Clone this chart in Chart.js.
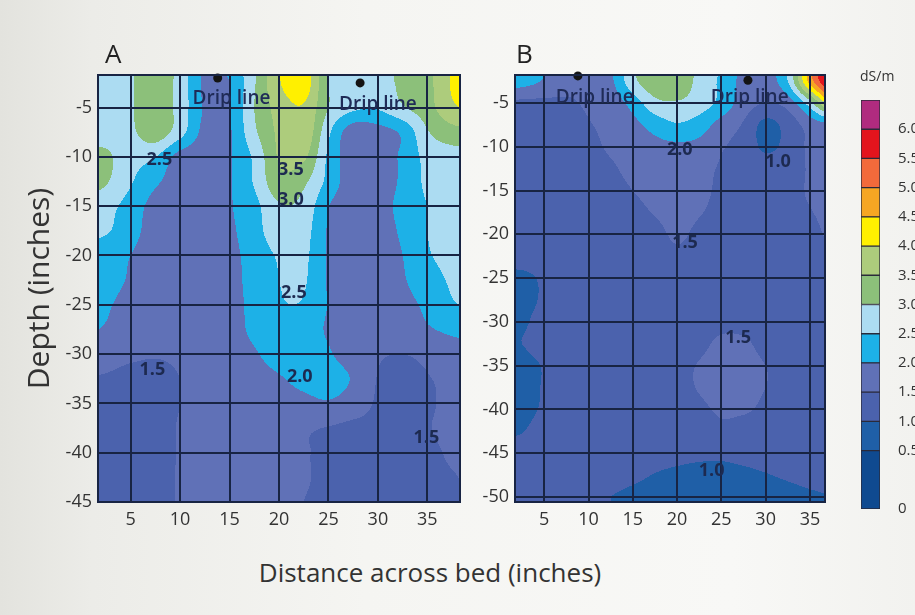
<!DOCTYPE html>
<html><head><meta charset="utf-8">
<script src="https://cdn.jsdelivr.net/npm/chart.js@4.4.1/dist/chart.umd.min.js"></script>
<style>
html,body{margin:0;padding:0;width:915px;height:615px;overflow:hidden;}
body{position:relative;font-family:"Open Sans",sans-serif;
background:linear-gradient(90deg,#e3e3de 0%,#ecece8 10%,#f5f5f2 40%,#f8f8f6 80%,#f2f2ef 100%);}
canvas{position:absolute;}
#unit{position:absolute;left:860px;top:66px;font-size:14px;color:#333;}
#xt{position:absolute;left:180px;width:500px;top:554px;text-align:center;font-size:26px;color:#333;}
</style></head>
<body>
<canvas id="cA" width="470" height="510" style="left:0;top:30px"></canvas>
<canvas id="cB" width="365" height="510" style="left:470px;top:30px"></canvas>
<canvas id="cC" width="90" height="447" style="left:855px;top:81px"></canvas>
<div id="unit">dS/m</div>
<div id="xt">Distance across bed (inches)</div>
<script>
// ---------- data ----------
const xNodes = [0,2.5,5,7.5,10,12.5,15,17.5,20,22.5,25,27.5,30,32.5,35,37.5,40];
const depthNodesA = [0,-2.5,-5,-7.5,-10,-12.5,-15,-17.5,-20,-22.5,-25,-27.5,-30,-32.5,-35,-37.5,-40,-42.5,-45];
const depthNodesB = [0,-2.5,-5,-7.5,-10,-12.5,-15,-17.5,-20,-22.5,-25,-27.5,-30,-32.5,-35,-37.5,-40,-42.5,-45,-47.5,-50];

// EC (dS/m) read at each depth row (top to bottom), across x nodes
const ecA = [
 [1.2,2.3,2.95,3.35,2.85,2.05,2.2,2.95,3.95,4.3,3.0,2.7,2.8,3.1,3.35,4.0,4.3],
 [2.7,2.75,2.95,3.35,2.8,1.9,2.0,2.95,3.95,4.3,3.0,2.7,2.8,3.1,3.35,4.05,4.3],
 [2.7,2.75,2.95,3.35,2.8,1.95,2.0,3.0,3.7,3.95,3.0,2.6,2.55,2.95,3.3,3.9,4.1],
 [2.7,2.75,2.9,3.3,2.7,1.85,1.95,2.9,3.6,3.9,2.6,1.7,1.8,2.1,2.95,3.3,3.4],
 [3.3,3.1,2.7,2.52,1.8,1.7,1.95,2.6,3.55,3.6,2.4,1.7,1.7,2.1,2.65,2.8,2.8],
 [3.3,3.05,2.55,2.1,1.7,1.65,1.95,2.55,3.35,3.1,2.35,1.7,1.7,2.1,2.6,2.75,2.8],
 [2.75,2.65,2.3,1.8,1.65,1.6,1.95,2.35,2.95,2.85,2.02,1.65,1.7,2.2,2.5,2.7,2.75],
 [2.65,2.55,2.2,1.75,1.65,1.6,1.9,2.3,2.8,2.7,1.95,1.65,1.7,2.1,2.5,2.65,2.7],
 [2.3,2.2,2.0,1.7,1.65,1.6,1.85,2.2,2.55,2.6,1.95,1.65,1.7,2.0,2.45,2.6,2.65],
 [2.25,2.15,1.95,1.7,1.65,1.6,1.8,2.2,2.5,2.55,1.95,1.7,1.7,1.95,2.3,2.55,2.6],
 [2.2,2.05,1.85,1.7,1.65,1.65,1.8,2.15,2.45,2.45,1.98,1.75,1.7,1.85,2.1,2.45,2.55],
 [2.1,1.95,1.8,1.7,1.65,1.65,1.8,2.1,2.3,2.2,1.95,1.75,1.7,1.8,1.95,2.1,2.2],
 [1.6,1.6,1.55,1.52,1.55,1.65,1.75,1.95,2.2,2.25,2.05,1.75,1.55,1.5,1.6,1.75,1.8],
 [1.5,1.48,1.45,1.45,1.5,1.6,1.7,1.8,1.95,2.15,2.2,1.95,1.48,1.4,1.48,1.6,1.7],
 [1.4,1.4,1.4,1.4,1.5,1.6,1.65,1.7,1.75,1.85,1.95,1.75,1.45,1.4,1.45,1.6,1.65],
 [1.4,1.4,1.4,1.4,1.52,1.6,1.65,1.65,1.6,1.55,1.48,1.4,1.4,1.4,1.48,1.6,1.65],
 [1.4,1.4,1.4,1.4,1.52,1.6,1.65,1.62,1.58,1.52,1.45,1.4,1.4,1.4,1.42,1.55,1.6],
 [1.4,1.4,1.4,1.42,1.52,1.6,1.63,1.6,1.56,1.52,1.45,1.4,1.4,1.4,1.4,1.48,1.55],
 [1.4,1.4,1.4,1.42,1.52,1.6,1.63,1.6,1.55,1.5,1.45,1.4,1.4,1.4,1.4,1.45,1.5]
];
const ecB = [
 [2.5,2.4,2.05,1.75,1.7,1.95,2.9,3.3,3.35,2.9,2.5,1.9,1.8,2.5,4.7,6.3,6.5],
 [2.3,2.2,1.95,1.65,1.65,1.9,2.85,3.35,3.35,2.85,2.4,1.85,1.75,2.5,4.7,6.3,6.5],
 [1.45,1.4,1.4,1.45,1.55,1.7,2.2,2.85,2.95,2.75,2.35,1.75,1.5,1.7,2.8,4.4,4.6],
 [1.4,1.35,1.35,1.4,1.48,1.6,1.85,2.2,2.45,2.25,1.8,1.45,0.85,1.2,1.7,1.9,2.0],
 [1.35,1.3,1.3,1.35,1.42,1.55,1.7,1.85,1.9,1.85,1.55,1.3,0.92,1.15,1.6,1.8,1.85],
 [1.35,1.3,1.3,1.3,1.35,1.45,1.6,1.7,1.75,1.65,1.45,1.3,1.25,1.3,1.55,1.75,1.8],
 [1.35,1.3,1.3,1.3,1.3,1.38,1.5,1.62,1.68,1.6,1.42,1.3,1.3,1.35,1.55,1.7,1.75],
 [1.35,1.3,1.3,1.3,1.3,1.32,1.4,1.52,1.6,1.52,1.4,1.3,1.3,1.35,1.48,1.6,1.65],
 [1.35,1.3,1.3,1.3,1.3,1.3,1.35,1.42,1.54,1.44,1.38,1.32,1.3,1.32,1.42,1.55,1.6],
 [1.3,1.3,1.3,1.3,1.3,1.3,1.32,1.38,1.45,1.4,1.35,1.32,1.3,1.3,1.38,1.5,1.55],
 [0.8,0.85,1.1,1.32,1.32,1.32,1.32,1.35,1.38,1.38,1.35,1.32,1.3,1.3,1.33,1.4,1.45],
 [0.78,0.83,1.08,1.3,1.3,1.3,1.3,1.32,1.32,1.35,1.38,1.35,1.3,1.3,1.3,1.35,1.4],
 [0.85,0.92,1.2,1.3,1.3,1.3,1.3,1.3,1.32,1.36,1.42,1.4,1.33,1.3,1.3,1.3,1.3],
 [0.92,1.0,1.25,1.3,1.3,1.3,1.3,1.3,1.32,1.42,1.56,1.55,1.4,1.3,1.3,1.3,1.3],
 [0.72,0.78,1.05,1.3,1.3,1.3,1.3,1.32,1.4,1.52,1.62,1.6,1.5,1.38,1.3,1.3,1.3],
 [0.72,0.78,1.05,1.3,1.3,1.3,1.3,1.32,1.4,1.52,1.62,1.6,1.5,1.38,1.3,1.3,1.3],
 [0.76,0.82,1.08,1.3,1.3,1.3,1.3,1.3,1.32,1.42,1.55,1.55,1.42,1.32,1.3,1.3,1.3],
 [0.92,0.98,1.25,1.3,1.3,1.3,1.3,1.28,1.25,1.25,1.4,1.3,1.28,1.3,1.3,1.3,1.3],
 [1.2,1.25,1.3,1.3,1.3,1.3,1.28,1.22,1.15,1.1,1.1,1.15,1.2,1.25,1.28,1.3,1.3],
 [1.25,1.25,1.25,1.25,1.25,1.2,1.1,0.98,0.9,0.85,0.85,0.9,0.98,1.05,1.12,1.18,1.2],
 [1.2,1.2,1.2,1.15,1.1,1.0,0.9,0.85,0.8,0.78,0.78,0.8,0.85,0.9,0.95,1.0,1.05]
];

const xTicks = [5,10,15,20,25,30,35];
const yTicksA = [-5,-10,-15,-20,-25,-30,-35,-40,-45];
const yTicksB = [-5,-10,-15,-20,-25,-30,-35,-40,-45,-50];

const bandEdges = [0,0.5,1.0,1.5,2.0,2.5,3.0,3.5,4.0,4.5,5.0,5.5,6.0,6.5];
const bandColors = ['#0f4a90','#1f5fa7','#4b62ad','#6071b7','#1db1e7','#acdcf2','#8cc07a','#adcc7c','#fff000','#f6a623','#f26a3b','#e3141d','#b02b7f'];
const cbTickLabels = ['0','0.5','1.0','1.5','2.0','2.5','3.0','3.5','4.0','4.5','5.0','5.5','6.0'];

const dripXA = [13.8, 28.2], dripDA = [-2.0, -2.5];
const dripTextXA = [15.2, 30.0], dripTextDA = [-4.1, -4.7];
const dripXB = [8.8, 28.0], dripDB = [-1.9, -2.4];
const dripTextXB = [10.7, 28.2], dripTextDB = [-4.4, -4.4];

const contourTextA = ['2.5','3.5','3.0','2.5','2.0','1.5','1.5'];
const contourXA = [7.9, 21.2, 21.2, 21.5, 22.1, 7.2, 34.9];
const contourDA = [-10.3, -11.3, -14.4, -23.8, -32.3, -31.6, -38.5];
const contourTextB = ['2.0','1.0','1.5','1.5','1.0'];
const contourXB = [20.3, 31.4, 20.9, 26.9, 23.9];
const contourDB = [-10.4, -11.7, -21.0, -31.8, -47.0];

// ---------- rendering helpers ----------
Chart.defaults.font.family = "'Open Sans', sans-serif";
const INK = '#182443';
function hexRgb(h){return [parseInt(h.slice(1,3),16),parseInt(h.slice(3,5),16),parseInt(h.slice(5,7),16)];}
const bandRgb = bandColors.map(hexRgb);
function cr(p0,p1,p2,p3,t){const t2=t*t,t3=t2*t;return 0.5*((2*p1)+(-p0+p2)*t+(2*p0-5*p1+4*p2-p3)*t2+(-p0+3*p1-3*p2+p3)*t3);}
function locate(nodes,v){const n=nodes.length,step=nodes[1]-nodes[0];let f=(v-nodes[0])/step;if(f<0)f=0;if(f>n-1)f=n-1;let i=Math.floor(f);if(i>n-2)i=n-2;return [i,f-i];}
function sample(grid,xN,dN,xv,dv){
  const [c,fx]=locate(xN,xv),[r,fy]=locate(dN,dv);
  const nc=xN.length,nr=dN.length,cl=(a,n)=>Math.max(0,Math.min(n-1,a));
  const col=[];
  for(let k=-1;k<=2;k++){const row=grid[cl(r+k,nr)];col.push(cr(row[cl(c-1,nc)],row[c],row[c+1],row[cl(c+2,nc)],fx));}
  return cr(col[0],col[1],col[2],col[3],fy);
}
function bandOf(v){let k=0;while(k<bandColors.length-1&&v>=bandEdges[k+1])k++;return k;}

function fieldPlugin(grid,dNodes){
  return {id:'field',beforeDraw(chart){
    const {ctx,chartArea:a,scales:{x,y}}=chart;
    const L=Math.floor(a.left),T=Math.floor(a.top),W=Math.ceil(a.right)-L,H=Math.ceil(a.bottom)-T;
    const off=document.createElement('canvas');off.width=W;off.height=H;
    const o=off.getContext('2d');const img=o.createImageData(W,H);const d=img.data;
    for(let j=0;j<H;j++){
      const dv=y.getValueForPixel(T+j+0.5);
      for(let i=0;i<W;i++){
        const xv=x.getValueForPixel(L+i+0.5);
        const c=bandRgb[bandOf(sample(grid,xNodes,dNodes,xv,dv))];
        const p=(j*W+i)*4;d[p]=c[0];d[p+1]=c[1];d[p+2]=c[2];d[p+3]=255;
      }
    }
    o.putImageData(img,0,0);ctx.drawImage(off,L,T);
  }};
}
function annotPlugin(cfg){
  return {id:'annot',
  afterDatasetsDraw(chart){
    const {ctx,scales:{x,y}}=chart;
    ctx.save();
    ctx.textAlign='center';ctx.textBaseline='middle';
    ctx.fillStyle='#1f2b57';ctx.font="600 19px 'Open Sans'";
    cfg.dripTextX.forEach((xv,i)=>ctx.fillText('Drip line',x.getPixelForValue(xv),y.getPixelForValue(cfg.dripTextD[i])));
    ctx.fillStyle='#1d2a50';ctx.font="700 18px 'Open Sans'";
    cfg.cText.forEach((t,i)=>ctx.fillText(t,x.getPixelForValue(cfg.cX[i]),y.getPixelForValue(cfg.cD[i])));
    ctx.restore();
  },
  afterDraw(chart){
    const {ctx,chartArea:a}=chart;
    ctx.save();ctx.strokeStyle=INK;ctx.lineWidth=2;
    ctx.strokeRect(a.left,a.top,a.right-a.left,a.bottom-a.top);
    ctx.fillStyle='#222';ctx.font="26px 'Open Sans'";ctx.textAlign='left';ctx.textBaseline='alphabetic';
    ctx.fillText(cfg.letter,a.left+cfg.letterDx,a.top-12);
    ctx.restore();
  }};
}
function panel(el,cfg){
  const tickFont={size:18};
  return new Chart(el,{
    type:'scatter',
    data:{datasets:[{data:cfg.dripX.map((v,i)=>({x:v,y:cfg.dripD[i]})),pointRadius:4.5,pointBackgroundColor:'#141414',pointBorderWidth:0,clip:false}]},
    options:{
      responsive:false,animation:false,events:[],
      layout:{padding:{left:0,top:45,right:10,bottom:0}},
      plugins:{legend:{display:false},tooltip:{enabled:false}},
      scales:{
        x:{type:'linear',min:cfg.xMin,max:cfg.xMax,
          afterBuildTicks:s=>{s.ticks=xTicks.map(v=>({value:v}));},
          afterFit:s=>{s.height=38;},
          ticks:{color:'#333',font:tickFont,padding:7,maxRotation:0,autoSkip:false,callback:v=>String(v)},
          grid:{color:INK,lineWidth:2,drawTicks:false},border:{display:false}},
        y:{type:'linear',min:cfg.dMin,max:cfg.dMax,
          afterBuildTicks:s=>{s.ticks=cfg.yTicks.map(v=>({value:v}));},
          afterFit:s=>{s.width=cfg.yw;},
          ticks:{color:'#333',font:tickFont,padding:6,autoSkip:false,callback:v=>String(v)},
          grid:{color:INK,lineWidth:2,drawTicks:false},border:{display:false},
          title:{display:!!cfg.ytitle,text:cfg.ytitle||'',color:'#333',font:{size:30},padding:{top:22,bottom:0}}}
      }
    },
    plugins:[fieldPlugin(cfg.grid,cfg.dNodes),annotPlugin(cfg)]
  });
}

panel(document.getElementById('cA'),{grid:ecA,dNodes:depthNodesA,xMin:1.7,xMax:38.3,dMin:-45,dMax:-1.7,
  yTicks:yTicksA,yw:98,ytitle:'Depth (inches)',dripX:dripXA,dripD:dripDA,dripTextX:dripTextXA,dripTextD:dripTextDA,
  cText:contourTextA,cX:contourXA,cD:contourDA,letter:'A',letterDx:7});
panel(document.getElementById('cB'),{grid:ecB,dNodes:depthNodesB,xMin:1.7,xMax:36.7,dMin:-50.57,dMax:-1.8,
  yTicks:yTicksB,yw:45,ytitle:'',dripX:dripXB,dripD:dripDB,dripTextX:dripTextXB,dripTextD:dripTextDB,
  cText:contourTextB,cX:contourXB,cD:contourDB,letter:'B',letterDx:1});

// ---------- colour bar ----------
const span = i => (i===0 ? 2 : 1); // lowest class drawn double height, as in the key
const edgePos = i => { let p=0; for(let k=0;k<i;k++) p+=span(k); return p; };
new Chart(document.getElementById('cC'),{
  type:'bar',
  data:{labels:[''],datasets:bandColors.map((c,i)=>({data:[span(i)],backgroundColor:c,borderColor:'#2a2a3a',borderWidth:1,borderSkipped:false,categoryPercentage:1,barPercentage:1}))},
  options:{responsive:false,animation:false,events:[],
    layout:{padding:{left:6,top:0,bottom:0,right:0}},
    plugins:{legend:{display:false},tooltip:{enabled:false}},
    scales:{
      x:{display:false,stacked:true},
      y:{stacked:true,position:'right',min:0,max:edgePos(bandColors.length),
        afterBuildTicks:s=>{s.ticks=cbTickLabels.map((t,i)=>({value:edgePos(i)}));},
        afterFit:s=>{s.width=65;},
        ticks:{color:'#333',font:{size:15},padding:10,autoSkip:false,callback:(v,i)=>cbTickLabels[i]},
        grid:{display:false},border:{display:false}}
    }
  }
});
</script>
</body></html>
